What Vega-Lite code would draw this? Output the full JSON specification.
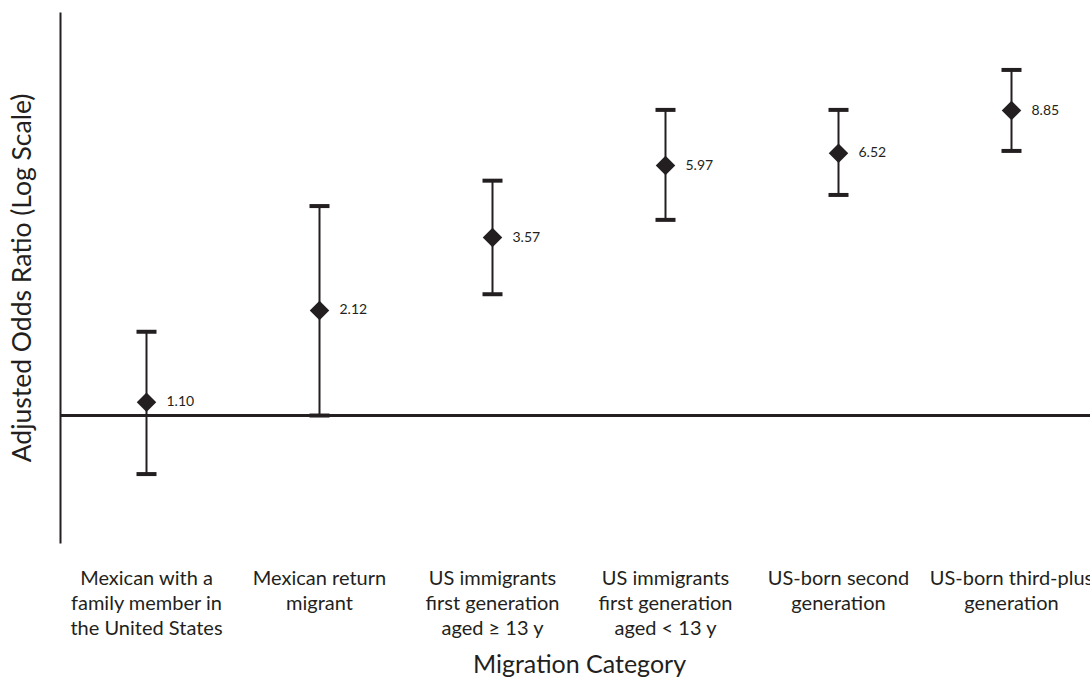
{
  "$schema": "https://vega.github.io/schema/vega-lite/v6.json",
  "width": 1038,
  "height": 531,
  "autosize": "none",
  "padding": {"left": 60, "top": 12, "right": 0, "bottom": 135},
  "background": "white",
  "config": {
    "view": {"stroke": null},
    "font": "Lato",
    "axis": {"labelFont": "Lato", "titleFont": "Lato", "titleFontWeight": "normal", "labelColor": "#231f20", "titleColor": "#231f20"}
  },
  "data": {
    "values": [
      {"category": "Mexican with a family member in the United States", "or": 1.10, "lo": 0.658, "hi": 1.82, "label": "1.10"},
      {"category": "Mexican return migrant", "or": 2.12, "lo": 1.0, "hi": 4.47, "label": "2.12"},
      {"category": "US immigrants first generation aged ≥ 13 y", "or": 3.57, "lo": 2.38, "hi": 5.36, "label": "3.57"},
      {"category": "US immigrants first generation aged < 13 y", "or": 5.97, "lo": 4.05, "hi": 8.89, "label": "5.97"},
      {"category": "US-born second generation", "or": 6.52, "lo": 4.84, "hi": 8.89, "label": "6.52"},
      {"category": "US-born third-plus generation", "or": 8.85, "lo": 6.63, "hi": 11.83, "label": "8.85"}
    ]
  },
  "encoding": {
    "x": {
      "field": "category", "type": "nominal", "sort": null,
      "scale": {"type": "band", "paddingInner": 0, "paddingOuter": 0},
      "axis": {
        "title": "Migration Category",
        "titleFontSize": 25,
        "titlePadding": 14,
        "labelFontSize": 20,
        "labelLineHeight": 25,
        "labelAngle": 0,
        "labelPadding": 25,
        "labelLimit": 300,
        "domain": false,
        "ticks": false,
        "grid": false,
        "labelExpr": "datum.value == 'Mexican with a family member in the United States' ? ['Mexican with a','family member in','the United States'] : datum.value == 'Mexican return migrant' ? ['Mexican return','migrant'] : datum.value == 'US immigrants first generation aged ≥ 13 y' ? ['US immigrants','first generation','aged ≥ 13 y'] : datum.value == 'US immigrants first generation aged < 13 y' ? ['US immigrants','first generation','aged < 13 y'] : datum.value == 'US-born second generation' ? ['US-born second','generation'] : ['US-born third-plus','generation']"
      }
    }
  },
  "layer": [
    {
      "mark": {"type": "rule", "color": "#231f20", "strokeWidth": 2},
      "encoding": {
        "y": {
          "field": "lo", "type": "quantitative",
          "scale": {"type": "log", "domain": [0.402, 17.9], "nice": false, "zero": false},
          "axis": {
            "title": "Adjusted Odds Ratio (Log Scale)",
            "titleFontSize": 26.5,
            "titlePadding": 24,
            "labels": false,
            "ticks": false,
            "grid": false,
            "domain": true,
            "domainColor": "#231f20",
            "domainWidth": 2
          }
        },
        "y2": {"field": "hi"}
      }
    },
    {
      "mark": {"type": "rule", "color": "#231f20", "strokeWidth": 2},
      "encoding": {"x": null, "y": {"datum": 1, "type": "quantitative"}}
    },
    {
      "mark": {"type": "tick", "color": "#231f20", "size": 20, "thickness": 4, "orient": "horizontal", "opacity": 1},
      "encoding": {"y": {"field": "lo", "type": "quantitative"}}
    },
    {
      "mark": {"type": "tick", "color": "#231f20", "size": 20, "thickness": 4, "orient": "horizontal", "opacity": 1},
      "encoding": {"y": {"field": "hi", "type": "quantitative"}}
    },
    {
      "mark": {"type": "point", "shape": "diamond", "filled": true, "size": 380, "color": "#231f20", "opacity": 1},
      "encoding": {"y": {"field": "or", "type": "quantitative"}}
    },
    {
      "mark": {"type": "text", "align": "left", "baseline": "middle", "dx": 20, "fontSize": 14, "color": "#231f20", "font": "Lato"},
      "encoding": {"y": {"field": "or", "type": "quantitative"}, "text": {"field": "label"}}
    }
  ]
}
